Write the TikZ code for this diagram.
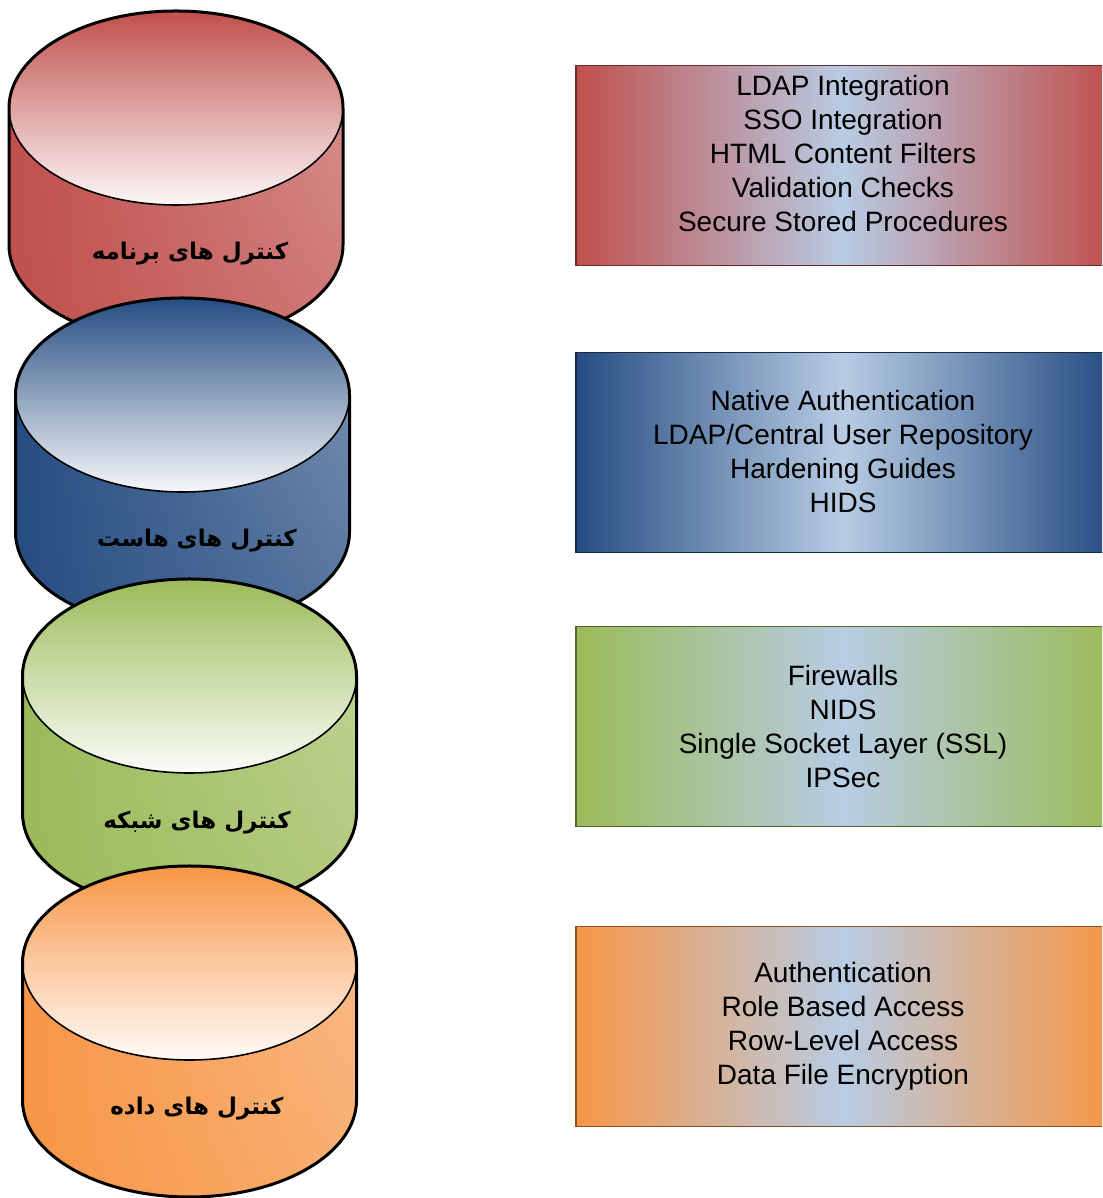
\documentclass[tikz,border=0pt]{standalone}
\usepackage{fontspec}
\setmainfont{Liberation Sans}
\newfontfamily\arabicfont[Script=Arabic]{DejaVu Sans}
\TeXXeTstate=1
\usetikzlibrary{fadings}

\definecolor{Rdark}{HTML}{C0504D}
\definecolor{Bdark}{HTML}{264D82}
\definecolor{Gdark}{HTML}{9BBB59}
\definecolor{Odark}{HTML}{F79646}
\definecolor{boxmid}{HTML}{B8CCE4}

\tikzset{
  rim/.style={line width=1.5pt, line join=round},
  innerrim/.style={line width=0.8pt},
  cyllabel/.style={font=\fontsize{11.5}{14}\arabicfont\bfseries, inner sep=0pt},
  listbox/.style={draw=#1dark!55!black, line width=0.7pt, left color=#1dark,
    right color=#1dark, middle color=boxmid, minimum width=267pt,
    minimum height=100pt, inner sep=0pt},
  listtext/.style={font=\fontsize{14}{17}\selectfont, align=center, inner sep=0pt},
}

% one cylinder: #1 centre x, #2 top-ellipse centre y, #3 bottom-ellipse centre y, #4 colour prefix
\newcommand\drawcyl[4]{%
  \path[left color=#4dark, middle color=#4dark!50!white, right color=#4dark!60!white]
    (#1-167,#2) -- (#1-167,#3)
    arc[start angle=180, end angle=360, x radius=167, y radius=97]
    -- (#1+167,#2)
    arc[start angle=0, end angle=180, x radius=167, y radius=97] -- cycle;
  \fill[#4dark, path fading=north, fill opacity=0.45]
    (#1-167,#2) -- (#1-167,#3)
    arc[start angle=180, end angle=360, x radius=167, y radius=97]
    -- (#1+167,#2)
    arc[start angle=0, end angle=180, x radius=167, y radius=97] -- cycle;
  \path[top color=#4dark, bottom color=#4dark!4!white]
    (#1,#2) ellipse[x radius=167, y radius=97];
  \draw[innerrim] (#1-167,#2)
    arc[start angle=180, end angle=360, x radius=167, y radius=97];
  \draw[rim]
    (#1-167,#2) -- (#1-167,#3)
    arc[start angle=180, end angle=360, x radius=167, y radius=97]
    -- (#1+167,#2)
    arc[start angle=0, end angle=180, x radius=167, y radius=97] -- cycle;
}

\begin{document}
\begin{tikzpicture}[x=0.5pt, y=0.5pt]
  \useasboundingbox (0,0) rectangle (1102,1198);
  \clip (0,0) rectangle (1102,1198);
  \fill[white] (0,0) rectangle (1102,1198);

  % stacked cylinders, top to bottom
  \drawcyl{176}{1090}{953}{R}
  \node[cyllabel] (app) at (190,944) {\beginR کنترل های برنامه\endR};
  \drawcyl{182.5}{803}{666}{B}
  \node[cyllabel] (host) at (197,657) {\beginR کنترل های هاست\endR};
  \drawcyl{189.5}{522}{385}{G}
  \node[cyllabel] (net) at (197,375) {\beginR کنترل های شبکه\endR};
  \drawcyl{189.5}{235}{98}{O}
  \node[cyllabel] (data) at (197,89) {\beginR کنترل های داده\endR};

  % lists of measures
  \node[listbox=R] (b1) at (843,1032.5) {};
  \node[listtext] (t1) at (843,1044.5) {LDAP Integration\\SSO Integration\\HTML Content Filters\\Validation Checks\\Secure Stored Procedures};
  \node[listbox=B] (b2) at (843,745.5) {};
  \node[listtext] (t2) at (843,746) {Native Authentication\\LDAP/Central User Repository\\Hardening Guides\\HIDS};
  \node[listbox=G] (b3) at (843,471.5) {};
  \node[listtext] (t3) at (843,472) {Firewalls\\NIDS\\Single Socket Layer (SSL)\\IPSec};
  \node[listbox=O] (b4) at (843,171.5) {};
  \node[listtext] (t4) at (843,172) {Authentication\\Role Based Access\\Row-Level Access\\Data File Encryption};
\end{tikzpicture}
\end{document}
